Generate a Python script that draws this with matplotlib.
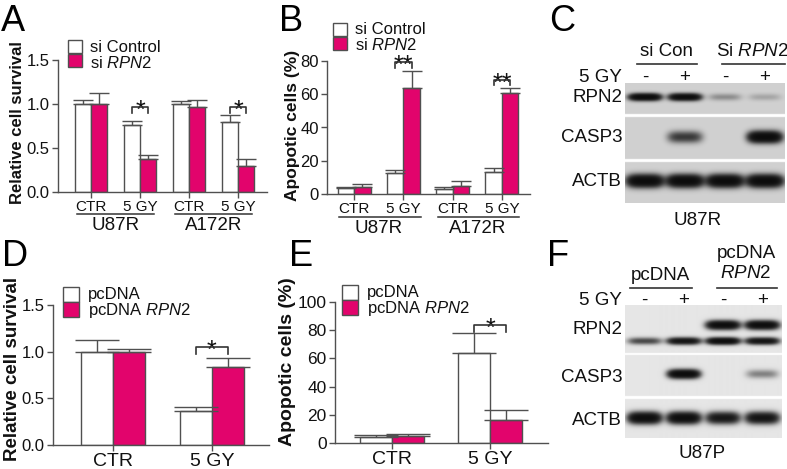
import numpy as np
import matplotlib
matplotlib.use('Agg')
import matplotlib.pyplot as plt
from matplotlib.patches import Rectangle
from matplotlib.lines import Line2D
import matplotlib.transforms as mtransforms

plt.rcParams['font.family'] = ['Liberation Sans', 'DejaVu Sans']
plt.rcParams['mathtext.fontset'] = 'custom'
plt.rcParams['mathtext.rm'] = 'Liberation Sans'
plt.rcParams['mathtext.it'] = 'Liberation Sans:italic'
plt.rcParams['mathtext.bf'] = 'Liberation Sans:bold'

# ---------------- data ----------------
# Panel A: relative cell survival
a_groups = ['U87R', 'A172R']
a_conditions = ['CTR', '5 GY', 'CTR', '5 GY']
a_sicontrol = [1.00, 0.76, 1.00, 0.79]
a_sicontrol_err = [0.05, 0.05, 0.03, 0.09]
a_sirpn2 = [1.00, 0.37, 0.97, 0.29]
a_sirpn2_err = [0.12, 0.05, 0.07, 0.08]
a_yticks = [0.0, 0.5, 1.0, 1.5]

# Panel B: apoptotic cells (%)
b_groups = ['U87R', 'A172R']
b_conditions = ['CTR', '5 GY', 'CTR', '5 GY']
b_sicontrol = [3.5, 12.5, 3.0, 13.5]
b_sicontrol_err = [1.0, 2.0, 1.5, 2.0]
b_sirpn2 = [4.5, 64.0, 5.0, 61.0]
b_sirpn2_err = [1.5, 10.0, 3.0, 3.0]
b_yticks = [0, 20, 40, 60, 80]

# Panel D: relative cell survival
d_conditions = ['CTR', '5 GY']
d_pcdna = [1.00, 0.36]
d_pcdna_err = [0.12, 0.05]
d_pcdna_rpn2 = [1.00, 0.84]
d_pcdna_rpn2_err = [0.03, 0.09]
d_yticks = [0.0, 0.5, 1.0, 1.5]

# Panel E: apoptotic cells (%)
e_conditions = ['CTR', '5 GY']
e_pcdna = [4.0, 64.0]
e_pcdna_err = [1.5, 14.0]
e_pcdna_rpn2 = [5.0, 16.5]
e_pcdna_rpn2_err = [1.5, 7.0]
e_yticks = [0, 20, 40, 60, 80, 100]

# Western blots: relative band intensity per lane (0 = none, 1 = saturated)
blot_gy = ['-', '+', '-', '+']
c_rpn2 = [1.0, 0.95, 0.16, 0.10]
c_casp3 = [0.0, 0.45, 0.0, 1.0]
c_actb = [1.0, 1.0, 1.0, 1.0]
f_rpn2_upper = [0.0, 0.0, 0.95, 0.95]
f_rpn2_lower = [0.40, 0.80, 0.95, 0.80]
f_casp3 = [0.0, 1.0, 0.0, 0.22]
f_actb = [0.95, 0.95, 0.75, 0.80]

# ---------------- styling ----------------
PINK = '#E2046C'
EDGE = '#505050'
TXT = '#111111'

W, H = 787, 469
fig = plt.figure(figsize=(W / 100, H / 100), dpi=100)


def fx(x):
    return x / W


def fy(y):
    return 1 - y / H


def axes_px(l, t, r, b):
    return fig.add_axes([l / W, 1 - b / H, (r - l) / W, (b - t) / H])


def ftext(x, y, s, **kw):
    kw.setdefault('color', TXT)
    fig.text(fx(x), fy(y), s, **kw)


def bline(ax, x0, x1, ypx, lw=1.2, color='#333333'):
    tr = mtransforms.blended_transform_factory(ax.transData, fig.transFigure)
    fig.add_artist(Line2D([x0, x1], [fy(ypx), fy(ypx)], transform=tr, lw=lw, color=color))


def btext(ax, x, ypx, s, **kw):
    tr = mtransforms.blended_transform_factory(ax.transData, fig.transFigure)
    kw.setdefault('color', TXT)
    ax.text(x, fy(ypx), s, transform=tr, **kw)


def legend_px(x0, y_white, y_pink, sq_w, sq_h, tx, ty1, ty2, l1, l2, fs):
    fig.add_artist(Rectangle((fx(x0), fy(y_white + sq_h)), sq_w / W, sq_h / H,
                             transform=fig.transFigure, facecolor='white', edgecolor=EDGE, lw=1.0))
    fig.add_artist(Rectangle((fx(x0), fy(y_pink + sq_h)), sq_w / W, sq_h / H,
                             transform=fig.transFigure, facecolor=PINK, edgecolor=EDGE, lw=1.0))
    ftext(tx, ty1, l1, fontsize=fs, ha='left', va='center')
    ftext(tx, ty2, l2, fontsize=fs, ha='left', va='center')


def bar_panel(ax, v1, e1, v2, e2, labels, width, xlim, ylim, yticks, fmt, capsize, fs):
    pos = np.arange(len(v1))
    ax.bar(pos - width / 2, v1, width, color='white', edgecolor=EDGE, linewidth=1.0, zorder=2)
    ax.bar(pos + width / 2, v2, width, color=PINK, edgecolor=EDGE, linewidth=1.0, zorder=2)
    z = np.zeros(len(v1))
    ax.errorbar(pos - width / 2, v1, yerr=[z, e1], fmt='none', ecolor=EDGE,
                elinewidth=1.0, capsize=capsize, capthick=1.0, zorder=3)
    ax.errorbar(pos + width / 2, v2, yerr=[z, e2], fmt='none', ecolor=EDGE,
                elinewidth=1.0, capsize=capsize, capthick=1.0, zorder=3)
    ax.set_xlim(*xlim)
    ax.set_ylim(*ylim)
    ax.set_yticks(yticks)
    ax.set_yticklabels([fmt.format(t) for t in yticks])
    ax.set_xticks(pos)
    ax.set_xticklabels(labels)
    for s in ['top', 'right']:
        ax.spines[s].set_visible(False)
    for s in ['left', 'bottom']:
        ax.spines[s].set_color(EDGE)
        ax.spines[s].set_linewidth(1.0)
    ax.tick_params(axis='both', direction='out', length=4, width=1.0, color=EDGE,
                   labelsize=fs, labelcolor=TXT, pad=2)
    ax.set_facecolor('none')
    return pos


def bracket(ax, x0, x1, ytop, ydrop, stars, fs, off=-7.5):
    ax.plot([x0, x0, x1, x1], [ydrop, ytop, ytop, ydrop], color='#333333', lw=1.2,
            clip_on=False, zorder=4)
    ax.annotate(stars, xy=((x0 + x1) / 2, ytop), xytext=(0, off), textcoords='offset points',
                ha='center', va='baseline', fontsize=fs, color=TXT)


# ---------------- Panel A ----------------
axA = axes_px(58, 60, 267, 192)
wA = 0.327
posA = bar_panel(axA, a_sicontrol, a_sicontrol_err, a_sirpn2, a_sirpn2_err, a_conditions,
                 wA, (-0.673, 3.59), (0, 1.5), a_yticks, '{:.1f}', 7, 12)
for lab in axA.get_xticklabels():
    lab.set_fontsize(11)
for g, gname in enumerate(a_groups):
    c = 2 * g + 0.5
    bline(axA, c - 0.78, c + 0.78, 214, lw=1.1)
    btext(axA, c, 226, gname, ha='center', va='center', fontsize=13.5)
bracket(axA, posA[1] - wA / 2, posA[1] + wA / 2, 0.966, 0.90, '*', 18)
bracket(axA, posA[3] - wA / 2, posA[3] + wA / 2, 0.966, 0.90, '*', 18)
ftext(18, 123, 'Relative cell survival', rotation=90, ha='center', va='center',
      fontsize=12, fontweight='bold')
legend_px(68, 40, 54, 14, 13, 90, 47.5, 62.5, 'si Control', r'si $\mathit{RPN2}$', 12)

# ---------------- Panel B ----------------
axB = axes_px(327, 61, 530, 194)
wB = 0.335
posB = bar_panel(axB, b_sicontrol, b_sicontrol_err, b_sirpn2, b_sirpn2_err, b_conditions,
                 wB, (-0.55, 3.57), (0, 80), b_yticks, '{:d}', 7, 12)
for lab in axB.get_xticklabels():
    lab.set_fontsize(11)
for g, gname in enumerate(b_groups):
    c = 2 * g + 0.5
    bline(axB, c - 0.8, c + 0.85, 217, lw=1.1)
    btext(axB, c, 228, gname, ha='center', va='center', fontsize=13.5)
bracket(axB, posB[1] - wB / 2, posB[1] + wB / 2, 79.4, 76.0, '**', 18)
bracket(axB, posB[3] - wB / 2, posB[3] + wB / 2, 68.6, 65.5, '**', 18)
ftext(292, 125, 'Apopotic cells (%)', rotation=90, ha='center', va='center',
      fontsize=12.5, fontweight='bold')
legend_px(333, 23, 37, 14, 13, 355, 29.5, 44.5, 'si Control', r'si $\mathit{RPN2}$', 12)

# ---------------- Panel D ----------------
axD = axes_px(53, 305, 269, 445)
wD = 0.323
posD = bar_panel(axD, d_pcdna, d_pcdna_err, d_pcdna_rpn2, d_pcdna_rpn2_err, d_conditions,
                 wD, (-0.606, 1.576), (0, 1.5), d_yticks, '{:.1f}', 16, 12)
for lab in axD.get_xticklabels():
    lab.set_fontsize(14)
bracket(axD, posD[1] - wD / 2, posD[1] + wD / 2, 1.05, 0.975, '*', 18)
ftext(13, 369, 'Relative cell survival', rotation=90, ha='center', va='center',
      fontsize=13.5, fontweight='bold')
legend_px(63, 287, 302, 16, 15, 88, 294, 311, 'pcDNA', r'pcDNA $\mathit{RPN2}$', 12)

# ---------------- Panel E ----------------
axE = axes_px(335, 302, 548, 443)
wE = 0.33
posE = bar_panel(axE, e_pcdna, e_pcdna_err, e_pcdna_rpn2, e_pcdna_rpn2_err, e_conditions,
                 wE, (-0.58, 1.59), (0, 100), e_yticks, '{:d}', 16, 12.5)
for lab in axE.get_xticklabels():
    lab.set_fontsize(14)
bracket(axE, posE[1] - wE / 2, posE[1] + wE / 2, 83.7, 78.7, '*', 18)
ftext(288, 362, 'Apopotic cells (%)', rotation=90, ha='center', va='center',
      fontsize=14, fontweight='bold')
legend_px(342, 285, 300, 16, 15, 367, 292, 309, 'pcDNA', r'pcDNA $\mathit{RPN2}$', 12)


# ---------------- Western blots ----------------
def draw_blot(ax, y_top, y_bot, strips, bg):
    nx = 640
    ny = int((y_bot - y_top) * 5)
    xs = np.linspace(0, 4, nx)
    ys = np.linspace(y_top, y_bot, ny)
    X, Y = np.meshgrid(xs, ys)
    img = np.ones_like(X)
    for (s0, s1, bands) in strips:
        inside = (Y >= s0) & (Y <= s1)
        dark = np.zeros_like(X)
        for (levels, yc, sy, sx) in bands:
            for i, lv in enumerate(levels):
                if lv <= 0:
                    continue
                prof = np.exp(-np.abs((X - (i + 0.5)) / sx) ** 4 - ((Y - yc) / sy) ** 2)
                dark += lv * prof
        val = bg - (bg - 0.03) * np.tanh(2.2 * dark)
        img = np.where(inside, val, img)
    ax.imshow(img, cmap='gray', vmin=0, vmax=1, extent=[0, 4, y_bot, y_top],
              aspect='auto', interpolation='bilinear')
    ax.set_xlim(0, 4)
    ax.set_ylim(y_bot, y_top)
    ax.axis('off')


BL_FS = 13.5
fline_kw = dict(lw=1.2, color='#333333')

# Panel C
axC = axes_px(625, 83, 785, 203)
draw_blot(axC, 83, 203, [
    (83, 114, [(c_rpn2, 97, 3.4, 0.40)]),
    (117, 159, [(c_casp3, 137, 5.5, 0.42)]),
    (162, 203, [(c_actb, 181, 6.0, 0.45)]),
], 0.82)
for i, s in enumerate(blot_gy):
    btext(axC, i + 0.5, 77, s, ha='center', va='center', fontsize=BL_FS)
ftext(622, 77, '5 GY', ha='right', va='center', fontsize=BL_FS)
ftext(622, 97, 'RPN2', ha='right', va='center', fontsize=BL_FS)
ftext(622, 138, 'CASP3', ha='right', va='center', fontsize=BL_FS)
ftext(622, 182, 'ACTB', ha='right', va='center', fontsize=BL_FS)
ftext(667, 52, 'si Con', ha='center', va='center', fontsize=BL_FS)
ftext(752, 52, r'Si $\mathit{RPN2}$', ha='center', va='center', fontsize=BL_FS)
fig.add_artist(Line2D([fx(637), fx(697)], [fy(64), fy(64)], transform=fig.transFigure, **fline_kw))
fig.add_artist(Line2D([fx(722), fx(785)], [fy(64), fy(64)], transform=fig.transFigure, **fline_kw))
ftext(698, 220, 'U87R', ha='center', va='center', fontsize=BL_FS)

# Panel F
axF = axes_px(625, 305, 782, 438)
draw_blot(axF, 305, 438, [
    (305, 353, [(f_rpn2_upper, 325, 4.2, 0.42), (f_rpn2_lower, 341, 3.3, 0.42)]),
    (355, 396, [(f_casp3, 374, 4.2, 0.40)]),
    (399, 438, [(f_actb, 418, 5.5, 0.42)]),
], 0.90)
for i, s in enumerate(blot_gy):
    btext(axF, i + 0.5, 300, s, ha='center', va='center', fontsize=BL_FS)
ftext(622, 300, '5 GY', ha='right', va='center', fontsize=BL_FS)
ftext(622, 330, 'RPN2', ha='right', va='center', fontsize=BL_FS)
ftext(622, 377, 'CASP3', ha='right', va='center', fontsize=BL_FS)
ftext(622, 420, 'ACTB', ha='right', va='center', fontsize=BL_FS)
ftext(660, 275, 'pcDNA', ha='center', va='center', fontsize=BL_FS)
ftext(746, 253, 'pcDNA', ha='center', va='center', fontsize=BL_FS)
ftext(746, 274, r'$\mathit{RPN2}$', ha='center', va='center', fontsize=BL_FS)
fig.add_artist(Line2D([fx(630), fx(692)], [fy(288), fy(288)], transform=fig.transFigure, **fline_kw))
fig.add_artist(Line2D([fx(717), fx(777)], [fy(288), fy(288)], transform=fig.transFigure, **fline_kw))
ftext(702, 453, 'U87P', ha='center', va='center', fontsize=BL_FS)

# ---------------- panel letters ----------------
LET_FS = 26
for letter, x, y in [('A', 1, 31), ('B', 279, 31), ('C', 549, 31),
                     ('D', 2, 266), ('E', 289, 266), ('F', 547, 266)]:
    ftext(x, y, letter, ha='left', va='baseline', fontsize=LET_FS, color='black')

fig.savefig('out.png', dpi=100)
